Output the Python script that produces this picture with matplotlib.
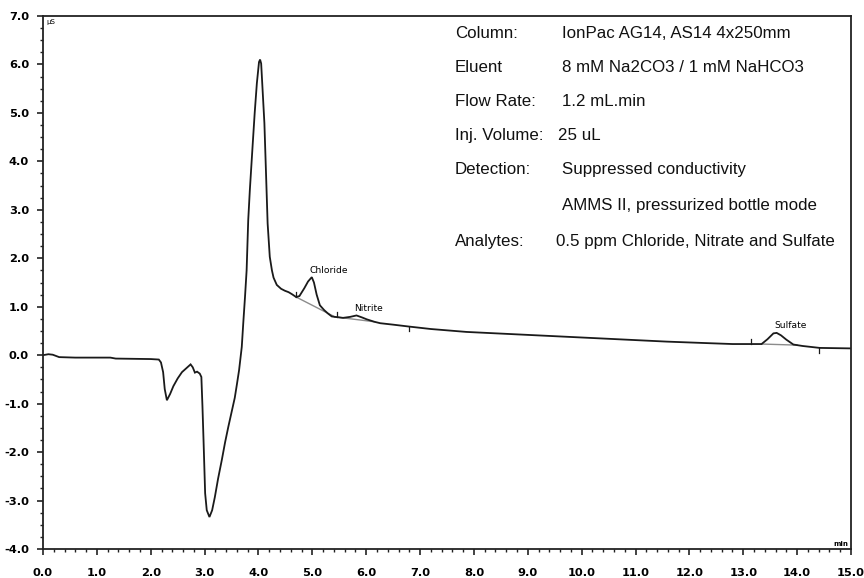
import numpy as np
import matplotlib
matplotlib.use("Agg")
import matplotlib.pyplot as plt
from matplotlib.ticker import MultipleLocator, FormatStrFormatter

# Chromatogram trace: retention time (min) and conductivity (µS)
time_min = [0.00, 0.10, 0.18, 0.30, 0.60, 1.25, 1.35, 2.00, 2.15, 2.19, 2.23, 2.26,
            2.30, 2.36, 2.42, 2.50, 2.58, 2.66, 2.74, 2.78, 2.82, 2.86, 2.91, 2.94,
            2.96, 2.98, 3.01, 3.04, 3.09, 3.14, 3.19, 3.25, 3.32, 3.38, 3.44, 3.50,
            3.56, 3.60, 3.64, 3.69, 3.72, 3.75, 3.78, 3.81, 3.84, 3.89, 3.93, 3.97,
            4.01, 4.03, 4.05, 4.07, 4.11, 4.14, 4.17, 4.21, 4.25, 4.28, 4.34, 4.42,
            4.49, 4.56, 4.62, 4.70, 4.76, 4.85, 4.92, 4.99, 5.03, 5.08, 5.14, 5.22,
            5.29, 5.36, 5.42, 5.50, 5.57, 5.70, 5.82, 5.92, 6.01, 6.15, 6.26, 6.50,
            6.80, 7.20, 7.86, 8.79, 9.72, 10.65, 11.58, 12.30, 12.80, 13.20, 13.34,
            13.45, 13.56, 13.62, 13.70, 13.80, 13.93, 14.10, 14.42, 15.00]
signal_us = [0.00, 0.02, 0.01, -0.04, -0.05, -0.05, -0.07, -0.08, -0.09, -0.15, -0.35, -0.70,
             -0.93, -0.80, -0.64, -0.48, -0.35, -0.27, -0.19, -0.25, -0.36, -0.34, -0.38, -0.45,
             -1.05, -1.75, -2.85, -3.20, -3.34, -3.20, -2.93, -2.55, -2.16, -1.80, -1.48, -1.18,
             -0.88, -0.60, -0.31, 0.17, 0.70, 1.20, 1.75, 2.79, 3.41, 4.30, 5.00, 5.61,
             6.05, 6.10, 6.02, 5.61, 4.79, 3.76, 2.72, 2.03, 1.75, 1.60, 1.45, 1.37,
             1.33, 1.30, 1.26, 1.20, 1.22, 1.38, 1.52, 1.61, 1.50, 1.25, 1.03, 0.93,
             0.86, 0.80, 0.79, 0.78, 0.77, 0.79, 0.82, 0.78, 0.74, 0.69, 0.66, 0.63,
             0.59, 0.54, 0.48, 0.43, 0.38, 0.33, 0.28, 0.25, 0.23, 0.23, 0.23,
             0.33, 0.45, 0.46, 0.41, 0.32, 0.22, 0.19, 0.15, 0.14]

# Identified peaks: name, apex time, integration start / end
peak_names = ["Chloride", "Nitrite", "Sulfate"]
peak_apex = [4.99, 5.82, 13.62]
peak_start = [4.70, 5.42, 13.34]
peak_end = [5.42, 6.15, 14.00]

# Detector event marks (time, direction)
event_times = [4.70, 5.45, 6.80, 13.15, 14.40]
event_dirs = [1, 1, -1, 1, -1]

# Method conditions
cond_keys = ["Column:", "Eluent", "Flow Rate:", "Inj. Volume:", "Detection:", "", "Analytes:"]
cond_vals = ["IonPac AG14, AS14 4x250mm", "8 mM Na2CO3 / 1 mM NaHCO3", "1.2 mL.min",
             "25 uL", "Suppressed conductivity", "AMMS II, pressurized bottle mode",
             "0.5 ppm Chloride, Nitrate and Sulfate"]
cond_val_x = [9.63, 9.63, 9.63, 9.56, 9.63, 9.63, 9.52]
cond_row_y = [6.63, 5.93, 5.24, 4.54, 3.84, 3.08, 2.34]

fig = plt.figure(figsize=(8.64, 5.78), dpi=100)
ax = fig.add_axes([43 / 864, 1 - 549 / 578, 808 / 864, 533 / 578])

t = np.array(time_min)
s = np.array(signal_us)
ax.plot(t, s, color="#1a1a1a", lw=1.3, solid_joinstyle="miter")

# integration baselines
for t0, t1 in zip(peak_start, peak_end):
    ax.plot([t0, t1], [np.interp(t0, t, s), np.interp(t1, t, s)],
            color="#8c8c8c", lw=1.0, zorder=1)

# event marks
for te, d in zip(event_times, event_dirs):
    y0 = np.interp(te, t, s)
    ax.plot([te, te], [y0, y0 + d * 0.1], color="#1a1a1a", lw=0.9)

# peak labels
for name, ta in zip(peak_names, peak_apex):
    ya = np.interp(ta, t, s)
    ax.text(ta - 0.04, ya + 0.05, name, fontsize=6.6, ha="left", va="bottom",
            family="DejaVu Sans")

ax.set_xlim(0, 15)
ax.set_ylim(-4, 7)
ax.xaxis.set_major_locator(MultipleLocator(1.0))
ax.xaxis.set_minor_locator(MultipleLocator(0.2))
ax.yaxis.set_major_locator(MultipleLocator(1.0))
ax.yaxis.set_minor_locator(MultipleLocator(0.25))
ax.xaxis.set_major_formatter(FormatStrFormatter("%.1f"))
ax.yaxis.set_major_formatter(FormatStrFormatter("%.1f"))
ax.tick_params(which="major", direction="out", length=4.5, width=1.2, color="#222222")
ax.tick_params(which="minor", direction="out", length=2.5, width=1.0, color="#222222")
ax.tick_params(axis="x", which="major", pad=9.5)
ax.tick_params(axis="y", which="major", pad=5.5)
for lab in ax.get_xticklabels() + ax.get_yticklabels():
    lab.set_fontsize(8.2)
    lab.set_fontweight("bold")
    lab.set_family("DejaVu Sans")
for sp in ax.spines.values():
    sp.set_linewidth(1.3)
    sp.set_color("#222222")

ax.text(0.004, 0.995, "µS", transform=ax.transAxes, fontsize=5, ha="left", va="top")
ax.text(0.997, 0.004, "min", transform=ax.transAxes, fontsize=5, ha="right", va="bottom",
        fontweight="bold")

# method conditions block
for k, v, y, xv in zip(cond_keys, cond_vals, cond_row_y, cond_val_x):
    ax.text(7.65, y, k, fontsize=12.2, ha="left", va="center",
            family="Liberation Sans", color="#111111")
    ax.text(xv, y, v, fontsize=12.2, ha="left", va="center",
            family="Liberation Sans", color="#111111")

fig.savefig("out.png", dpi=100)
